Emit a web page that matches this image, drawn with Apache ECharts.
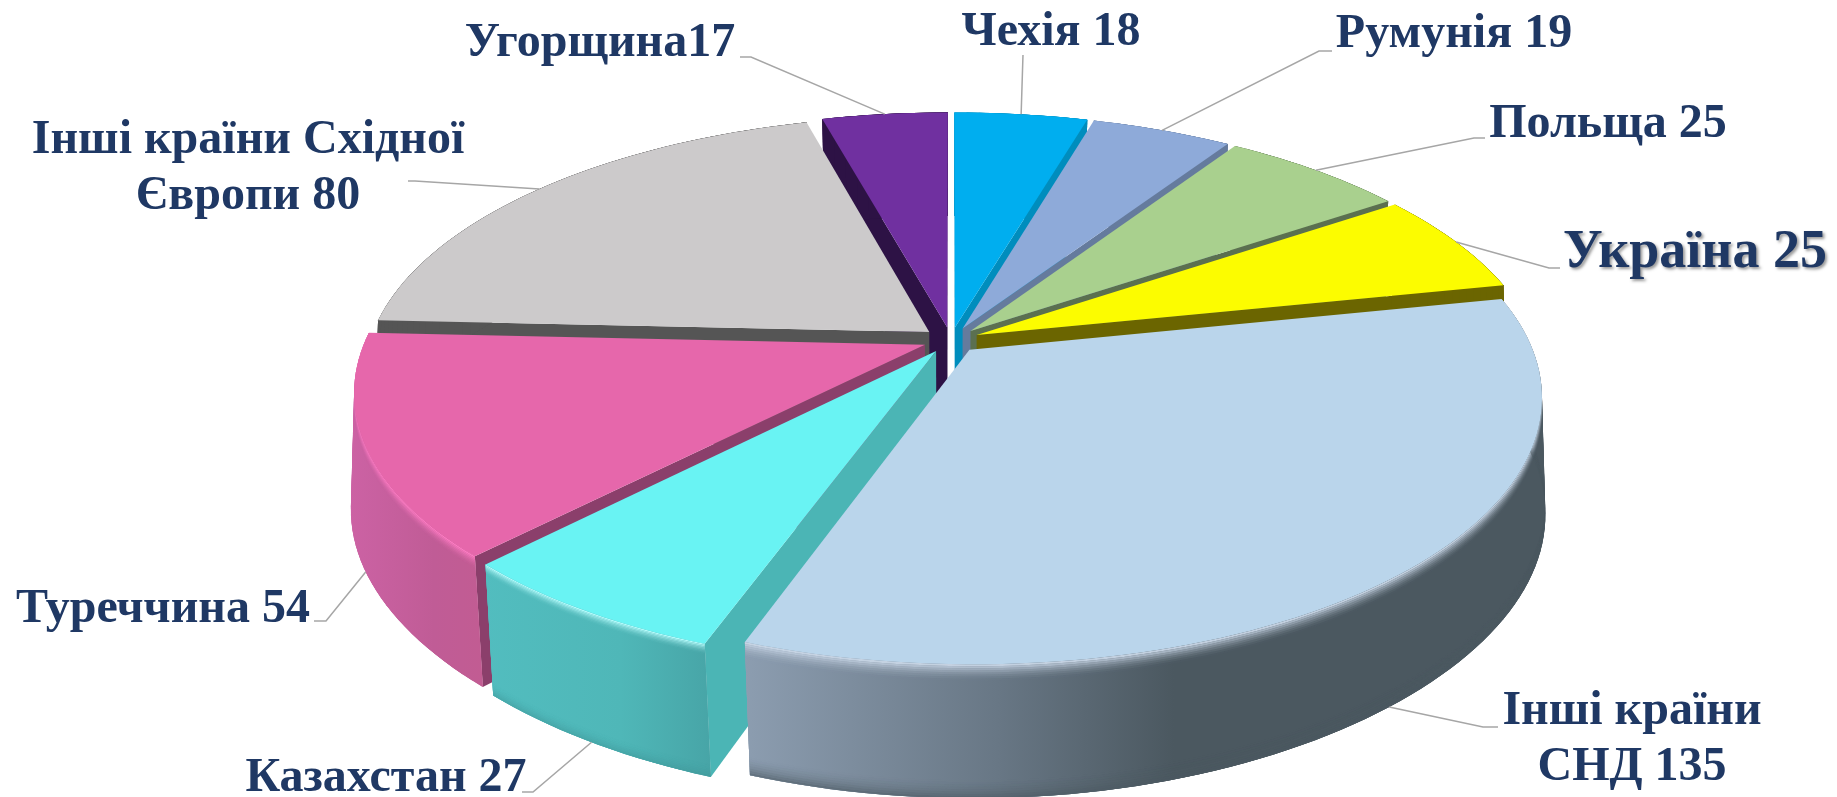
<!DOCTYPE html>
<html><head><meta charset="utf-8">
<style>html,body{margin:0;padding:0;background:#fff}#c{width:1837px;height:797px}</style>
<script src="https://cdn.jsdelivr.net/npm/echarts@6/dist/echarts.min.js"></script>
</head><body><div id="c"></div>
<script>
// ---- data ----
const categories = ['Чехія','Румунія','Польща','Україна','Інші країни СНД','Казахстан','Туреччина','Інші країни Східної Європи','Угорщина'];
const values = [18,19,25,25,135,27,54,80,17];
const labelTexts = ['Чехія 18','Румунія 19','Польща 25','Україна 25','Інші країни\nСНД 135','Казахстан 27','Туреччина 54','Інші країни Східної\nЄвропи 80','Угорщина17'];

// ---- styles and layout ----
const topColors  = ['#00aeef','#8eaad9','#a9d08e','#fcfc00','#bad5eb','#69f3f3','#e667ab','#cccacb','#7030a0'];
const wallColors = ['#008dbd','#657b9d','#5b7050','#6b6500','#8497a8','#4bb5b5','#8b3f6b','#555555','#2d1245'];
const rimStops = {
  4:[[0,'#8c9db0'],[0.5,'#687785'],[0.85,'#4b5860'],[1,'#4b5860']],
  5:[[0,'#52bdbf'],[0.6,'#4fb7b8'],[1,'#47a4a6']],
  6:[[0,'#cc62a4'],[0.6,'#c05c96'],[1,'#c25c92']]
};
const rimSpan = {4:[745,1250],5:[480,715],6:[350,490]};
// [edge colour, strength, share of the wall height]
const bevel = {4:['#c8d6e6',0.95,0.12],5:['#b4fbfb',1,0.08],6:['#ff7cc4',0.95,0.10]};
const footShade = {4:['#4b5860',0.6,0.14],5:['#3f9698',0.5,0.1]};
const paintOrder = [0,8,1,2,7,3,6,5,4];
// anchor: 0 = top rim, 1 = bottom rim
const anchorOn = [0,0,0,0,1,1,1,0,0];
const leaderTail = [
  [[1023,55]],
  [[1319,51],[1332,51]],
  [[1474,138],[1485,138]],
  [[1549,268],[1560,268]],
  [[1483,727],[1498,727]],
  [[533,792],[522,792]],
  [[326,621],[314,621]],
  [[415,181],[408,181]],
  [[751,57],[740,57]]
];
const labelCenter = [[1051,33],[1454,35],[1608,125],[1695,253],[1632,740],[386,779],[163,610],[248,169],[600,44]];
const labelFonts = [48,48,48,48,48,48,48,48,48].map((s,i)=>'bold '+(i===3?54:s)+'px "Liberation Serif"');
const lineGap = 56;

// camera
const CX=951, CY=340, RPX=559.5, D=5.13, TILT=Math.asin(0.458), H=0.241, EXPLODE=0.05, FOOT_BULGE=0.03;
const sinT=Math.sin(TILT), cosT=Math.cos(TILT), F=RPX*D;
const rad=d=>d*Math.PI/180;
function proj(u,v,z){const w=D-v*cosT-z*sinT;return [CX+F*u/w, CY+F*(v*sinT-z*cosT)/w];}
const total=values.reduce((a,b)=>a+b,0);
let acc=0;
const angles=values.map(v=>{const s=acc/total*360;acc+=v;return [s,acc/total*360];});

function offset(s,e){const m=rad((s+e)/2);return [EXPLODE*Math.sin(m),-EXPLODE*Math.cos(m)];}
// the rounded edge pushes the lower rim outwards at the sides of the disc
function rimRadius(t,z){return 1+FOOT_BULGE*Math.pow(Math.sin(t),4)*(-z/H);}
function rimPoint(t,z,off){const r=rimRadius(t,z);return proj(off[0]+r*Math.sin(t),off[1]-r*Math.cos(t),z);}
function arc(s,e,z,off){const n=Math.max(4,Math.ceil((e-s)/1.5)),pts=[];
  for(let i=0;i<=n;i++){pts.push(rimPoint(rad(s+(e-s)*i/n),z,off));}
  return pts;}
function poly(points,fill,opacity){return {type:'polygon',shape:{points},style:{fill,opacity:opacity==null?1:opacity,stroke:null}};}

function renderSlice(params,api){
  const i=api.value(0), s=api.value(2), e=api.value(3);
  const off=offset(s,e), children=[];
  const camV=D*cosT;
  // cut walls
  [[s,-1],[e,1]].forEach(([a,sign])=>{
    const t=rad(a), n=[sign*Math.cos(t),sign*Math.sin(t)];
    if(n[0]*(0-off[0])+n[1]*(camV-off[1])<=0) return;
    children.push(poly([proj(off[0],off[1],0),rimPoint(t,0,off),rimPoint(t,-H,off),proj(off[0],off[1],-H)],wallColors[i]));
  });
  // outer rim: overlapping opaque quads, so the side silhouette is filled without seams
  const topArc=arc(s,e,0,off), botArc=arc(s,e,-H,off);
  let rimFill=wallColors[i];
  if(rimStops[i]){
    rimFill=new echarts.graphic.LinearGradient(rimSpan[i][0],0,rimSpan[i][1],0,
      rimStops[i].map(p=>({offset:p[0],color:p[1]})),true);
  }
  children.push(poly(topArc.concat(botArc.slice().reverse()),rimFill));
  const last=topArc.length-1;
  for(let j=0;j<last;j++){
    const k=Math.min(j+3,last);
    children.push(poly([topArc[j],topArc[k],botArc[k],botArc[j]],rimFill));
  }
  // soft bevel under the top edge, darker foot at the bottom edge
  const steps=8;
  if(bevel[i]){
    const [col,str,frac]=bevel[i];
    for(let k=0;k<steps;k++){
      const a=arc(s,e,-H*frac*k/steps,off), b=arc(s,e,-H*frac*(k+1)/steps,off);
      children.push(poly(a.concat(b.reverse()),col,str*(1-k/steps)*(1-k/steps)));
    }
  }
  if(footShade[i]){
    const [col,str,frac]=footShade[i];
    for(let k=0;k<steps;k++){
      const a=arc(s,e,-H*(1-frac*k/steps),off), b=arc(s,e,-H*(1-frac*(k+1)/steps),off);
      children.push(poly(a.concat(b.reverse()),col,str*(1-k/steps)*(1-k/steps)));
    }
  }
  // top face
  children.push(poly([proj(off[0],off[1],0)].concat(topArc),topColors[i]));
  return {type:'group',children};
}

function renderLabel(params,api){
  const i=api.value(0), s=api.value(2), e=api.value(3);
  const off=offset(s,e), m=rad((s+e)/2);
  const start=rimPoint(m,anchorOn[i]?-H:0,off);
  const children=[{type:'polyline',shape:{points:[start].concat(leaderTail[i])},
    style:{stroke:'#a6a6a6',lineWidth:1.5,fill:null}}];
  labelTexts[i].split('\n').forEach((line,k,all)=>{
    const y=labelCenter[i][1]+(k-(all.length-1)/2)*lineGap;
    const st={text:line,x:labelCenter[i][0],y,font:labelFonts[i],fill:'#1f3864',align:'center',verticalAlign:'middle'};
    if(i===3){st.textShadowColor='rgba(0,0,0,0.4)';st.textShadowBlur=3;st.textShadowOffsetX=2;st.textShadowOffsetY=2;}
    children.push({type:'text',style:st});
  });
  return {type:'group',children};
}

const seriesData=paintOrder.map(i=>({name:categories[i],value:[i,values[i],angles[i][0],angles[i][1]]}));
const chart=echarts.init(document.getElementById('c'),null,{width:1837,height:797});
chart.setOption({
  animation:false,
  backgroundColor:'#fff',
  tooltip:{show:false},
  series:[
    {type:'custom',coordinateSystem:'none',renderItem:renderSlice,data:seriesData,z:2,silent:true},
    {type:'custom',coordinateSystem:'none',renderItem:renderLabel,data:seriesData,z:3,silent:true}
  ]
});
</script></body></html>
